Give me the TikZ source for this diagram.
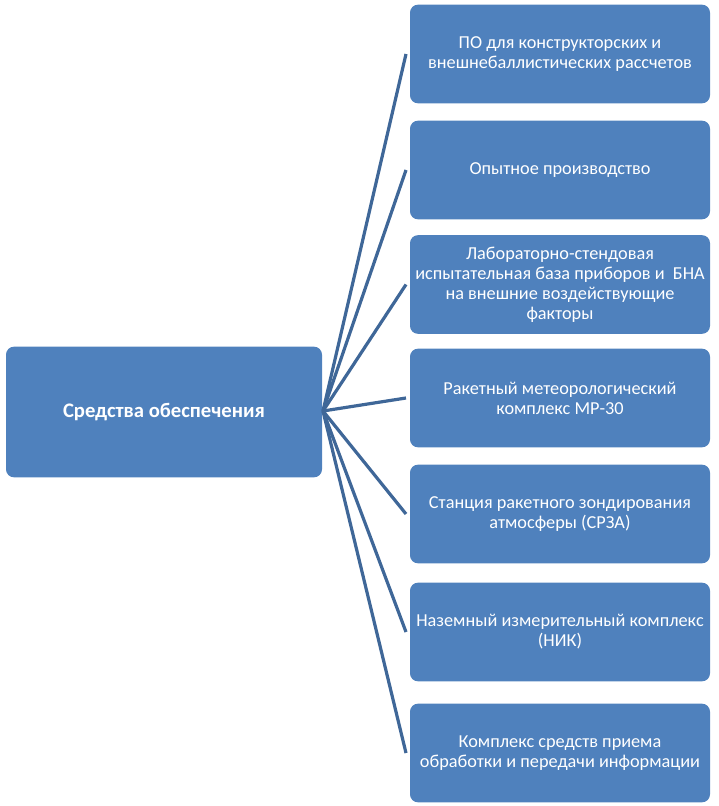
\documentclass[tikz,border=0pt]{standalone}
\usepackage{fontspec}
\setmainfont{Carlito}
\usetikzlibrary{positioning}

\definecolor{boxblue}{HTML}{4F81BD}
\definecolor{linkblue}{HTML}{3F6798}

\begin{document}
\begin{tikzpicture}[x=0.75pt,y=-0.75pt,
  blk/.style={fill=boxblue,text=white,rounded corners=6pt,align=center,
    minimum width=225pt,minimum height=74pt,inner sep=1pt,font=\fontsize{13.7}{15}\selectfont},
  link/.style={draw=linkblue,line width=2.4pt}]
  \useasboundingbox (0,0) rectangle (718,806);
  % main block
  \node[blk,minimum width=237pt,minimum height=98pt,font=\bfseries\fontsize{15.5}{18}\selectfont] (main) at (164,412) {Средства обеспечения};
  \coordinate (hub) at (323,411);
  % right blocks
  \foreach \n/\y/\lab in {1/54/{ПО для конструкторских и\\внешнебаллистических рассчетов},
      2/170/{Опытное производство},
      3/284.5/{Лабораторно-стендовая\\испытательная база приборов и~ БНА\\на внешние воздействующие\\факторы},
      4/398/{Ракетный метеорологический\\комплекс МР-30},
      5/514/{Станция ракетного зондирования\\атмосферы (СРЗА)},
      6/632/{Наземный измерительный комплекс\\(НИК)},
      7/753/{Комплекс средств приема\\обработки и передачи информации}}
    {\node[blk] (b\n) at (560,\y) {\lab};
     \coordinate (e\n) at (406,\y);
     \draw[link] (hub) -- (e\n);}
\end{tikzpicture}
\end{document}
